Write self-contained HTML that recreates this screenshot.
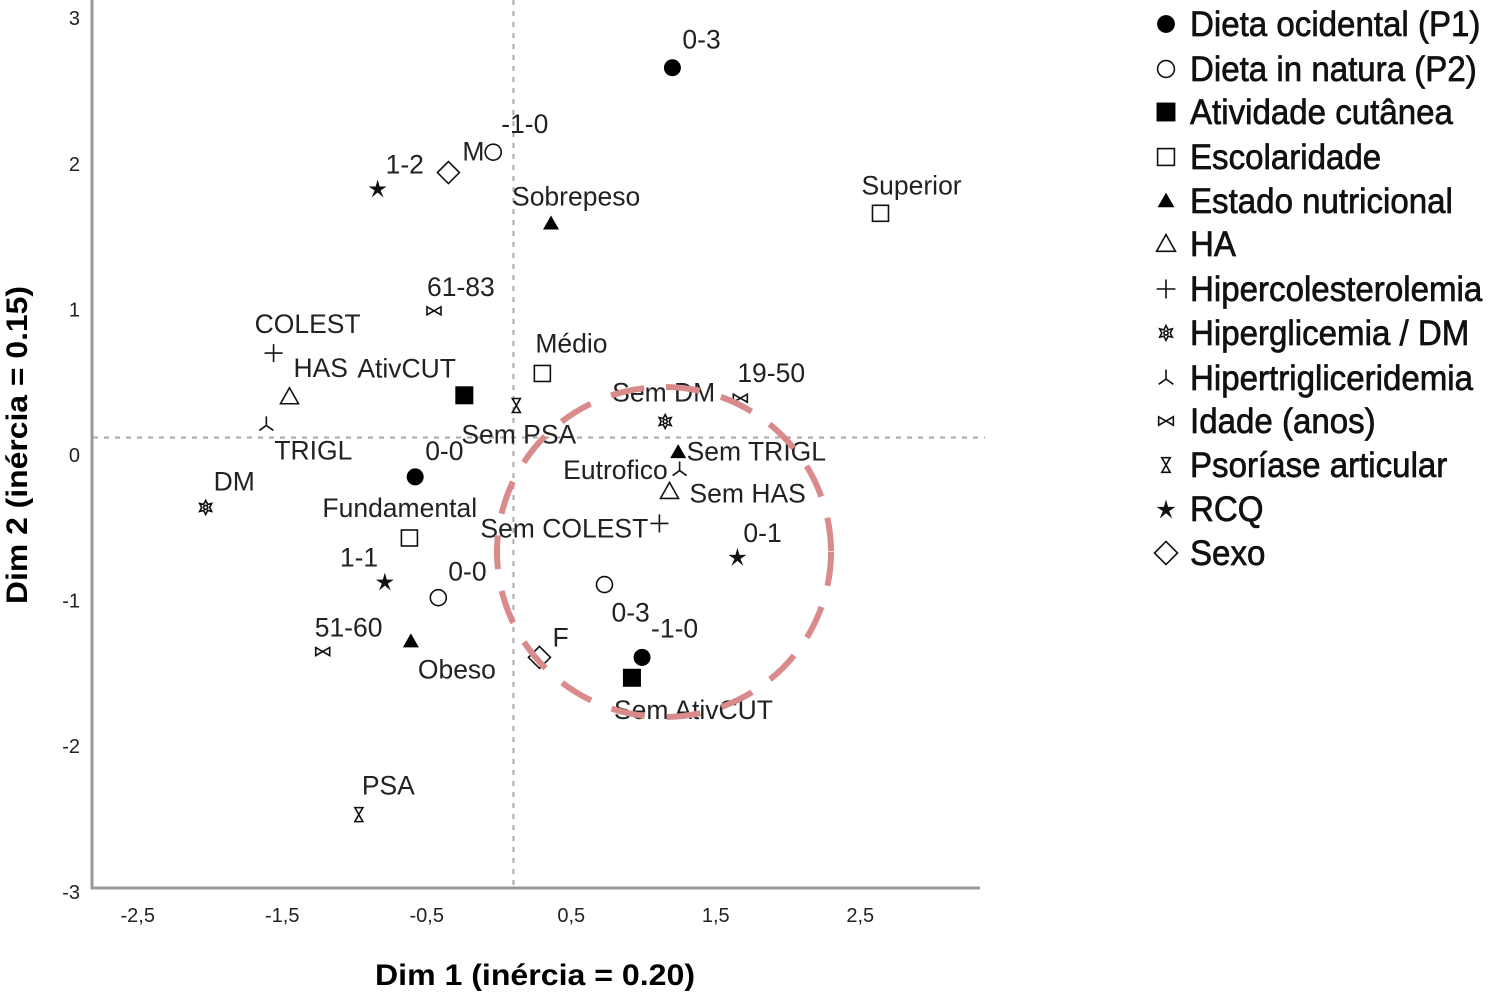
<!DOCTYPE html>
<html><head><meta charset="utf-8"><style>
html,body{margin:0;padding:0;background:#fff;}
svg{display:block;font-family:"Liberation Sans",sans-serif;}
</style></head><body>
<svg id="chart" width="1500" height="992" viewBox="0 0 1500 992" xmlns="http://www.w3.org/2000/svg">
<g id="axes"></g>
<g id="marks"></g>
<ellipse cx="664" cy="552" rx="167" ry="165" fill="none" stroke="#d98b8b" stroke-width="6" stroke-dasharray="34,22"/>
<g id="legend"></g>
<text x="535" y="985" text-anchor="middle" font-size="30" font-weight="bold" textLength="320" lengthAdjust="spacingAndGlyphs">Dim 1 (inércia = 0.20)</text>
<text transform="translate(27,445) rotate(-90)" text-anchor="middle" font-size="30" font-weight="bold" textLength="318" lengthAdjust="spacingAndGlyphs">Dim 2 (inércia = 0.15)</text>
</svg>
<script>
const xTicks = [-2.5,-1.5,-0.5,0.5,1.5,2.5];
const xTickLabels = ["-2,5","-1,5","-0,5","0,5","1,5","2,5"];
const yTicks = [3,2,1,0,-1,-2,-3];
const yTickLabels = ["3","2","1","0","-1","-2","-3"];
const seriesNames = ["Dieta ocidental (P1)","Dieta in natura (P2)","Atividade cutânea","Escolaridade","Estado nutricional","HA","Hipercolesterolemia","Hiperglicemia / DM","Hipertrigliceridemia","Idade (anos)","Psoríase articular","RCQ","Sexo"];
const seriesSymbols = ["circleFill","circle","squareFill","square","triFill","tri","plus","starburst","triDown","bowtie","hourglass","star","diamond"];
const dietaOcidentalX = [1.20,-0.58,0.99];
const dietaOcidentalY = [2.66,-0.15,-1.39];
const dietaOcidentalLabels = ["0-3","0-0","-1-0"];
const dietaNaturaX = [-0.04,-0.42,0.73];
const dietaNaturaY = [2.08,-0.98,-0.89];
const dietaNaturaLabels = ["-1-0","0-0","0-3"];
const ativX = [-0.24,0.92];
const ativY = [0.41,-1.53];
const ativLabels = ["AtivCUT","Sem AtivCUT"];
const escX = [2.64,0.30,-0.62];
const escY = [1.66,0.56,-0.57];
const escLabels = ["Superior","Médio","Fundamental"];
const nutrX = [0.36,1.24,-0.61];
const nutrY = [1.59,0.02,-1.28];
const nutrLabels = ["Sobrepeso","Eutrofico","Obeso"];
const haX = [-1.45,1.18];
const haY = [0.40,-0.25];
const haLabels = ["HAS","Sem HAS"];
const colX = [-1.56,1.11];
const colY = [0.70,-0.47];
const colLabels = ["COLEST","Sem COLEST"];
const dmX = [-2.03,1.15];
const dmY = [-0.36,0.23];
const dmLabels = ["DM","Sem DM"];
const trigX = [-1.61,1.25];
const trigY = [0.21,-0.10];
const trigLabels = ["TRIGL","Sem TRIGL"];
const idadeX = [-0.45,1.67,-1.22];
const idadeY = [0.99,0.39,-1.35];
const idadeLabels = ["61-83","19-50","51-60"];
const psaX = [0.12,-0.97];
const psaY = [0.34,-2.47];
const psaLabels = ["Sem PSA","PSA"];
const rcqX = [-0.84,1.65,-0.79];
const rcqY = [1.83,-0.70,-0.87];
const rcqLabels = ["1-2","0-1","1-1"];
const sexoX = [-0.35,0.28];
const sexoY = [1.94,-1.39];
const sexoLabels = ["M","F"];

const seriesX = [dietaOcidentalX,dietaNaturaX,ativX,escX,nutrX,haX,colX,dmX,trigX,idadeX,psaX,rcqX,sexoX];
const seriesY = [dietaOcidentalY,dietaNaturaY,ativY,escY,nutrY,haY,colY,dmY,trigY,idadeY,psaY,rcqY,sexoY];
const seriesLabels = [dietaOcidentalLabels,dietaNaturaLabels,ativLabels,escLabels,nutrLabels,haLabels,colLabels,dmLabels,trigLabels,idadeLabels,psaLabels,rcqLabels,sexoLabels];
// label offsets relative to marker (layout only)
const labelOffsets = [
 [[10,-28],[10,-26],[9,-29]],
 [[8,-28],[10,-26],[7,28]],
 [[-107,-27],[-18,32]],
 [[-19,-28],[-7,-30],[-87,-30]],
 [[-39,-27],[-115,18],[7,28]],
 [[4,-29],[20,2]],
 [[-19,-29],[-179,5]],
 [[8,-26],[-53,-29]],
 [[8,26],[7,-18]],
 [[-7,-24],[-3,-25],[-8,-24]],
 [[-55,29],[3,-29]],
 [[8,-24],[6,-24],[-45,-24]],
 [[14,-21],[13,-20]]
];

const SVGNS="http://www.w3.org/2000/svg";
const X0=499, XS=144.5, Y0=455, YS=145.6;
function sx(v){return X0+v*XS;}
function sy(v){return Y0-v*YS;}
function mk(tag,attrs,parent){const e=document.createElementNS(SVGNS,tag);for(const k in attrs)e.setAttribute(k,attrs[k]);parent.appendChild(e);return e;}

const axes=document.getElementById('axes');
let e;
e=mk('line',{x1:92,y1:0,x2:92,y2:889,stroke:'#999','stroke-width':3},axes);


e=mk('line',{x1:91,y1:888,x2:980,y2:888,stroke:'#999','stroke-width':3},axes);


e=mk('line',{x1:sx(0.1),y1:0,x2:sx(0.1),y2:887,stroke:'#aaa','stroke-width':2,'stroke-dasharray':'5,6'},axes);


e=mk('line',{x1:93,y1:sy(0.12),x2:985,y2:sy(0.12),stroke:'#aaa','stroke-width':2,'stroke-dasharray':'5,6'},axes);


xTicks.forEach((t,i)=>{
 const tx=mk('text',{x:sx(t),y:922,'text-anchor':'middle','font-size':20,fill:'#222'},axes);
 tx.textContent=xTickLabels[i];
 
 
});
yTicks.forEach((t,i)=>{
 const tx=mk('text',{x:80,y:sy(t)+7,'text-anchor':'end','font-size':20,fill:'#222'},axes);
 tx.textContent=yTickLabels[i];
 
 
});

function drawSymbol(sym,x,y,parent,s){
 s=s||1;
 const g=mk('g',{transform:`translate(${x},${y}) scale(${s})`},parent);
 const st={stroke:'#111','stroke-width':1.6/s,fill:'none'};
 switch(sym){
  case 'circleFill': mk('circle',{r:8.5,fill:'#000'},g);break;
  case 'circle': mk('circle',Object.assign({r:8},st),g);break;
  case 'squareFill': mk('rect',{x:-9,y:-9,width:18,height:18,fill:'#000'},g);break;
  case 'square': mk('rect',Object.assign({x:-8,y:-8,width:16,height:16},st),g);break;
  case 'triFill': mk('path',{d:'M0,-8 L8,6 L-8,6Z',fill:'#000'},g);break;
  case 'tri': mk('path',Object.assign({d:'M0,-9 L9,7 L-9,7Z'},st),g);break;
  case 'plus': mk('path',Object.assign({d:'M-9,0 H9 M0,-9 V9'},st),g);break;
  case 'starburst': mk('path',Object.assign({d:'M0,-7 L2,-3 L6,-4 L4,0 L6,4 L2,3 L0,7 L-2,3 L-6,4 L-4,0 L-6,-4 L-2,-3Z'},st),g);mk('circle',Object.assign({r:2},st),g);break;
  case 'triDown': mk('path',Object.assign({d:'M0,-8 V1 M0,1 L-7,6 M0,1 L7,6'},st),g);break;
  case 'bowtie': mk('path',Object.assign({d:'M-7,-4 L7,4 V-4 L-7,4Z'},st),g);break;
  case 'hourglass': mk('path',Object.assign({d:'M-4,-7 H4 L-4,7 H4Z'},st),g);break;
  case 'star': mk('path',{d:'M0,-9 L2,-2 L9,-2 L3,2 L6,9 L0,4 L-6,9 L-3,2 L-9,-2 L-2,-2Z',fill:'#111'},g);break;
  case 'diamond': mk('path',Object.assign({d:'M0,-11 L11,0 L0,11 L-11,0Z'},st),g);break;
 }
 return g;
}

const marks=document.getElementById('marks');
seriesX.forEach((xs,si)=>{
 const sg=mk('g',{},marks);
 
 
 xs.forEach((xv,i)=>{
  const px=sx(xv), py=sy(seriesY[si][i]);
  const m=drawSymbol(seriesSymbols[si],px,py,sg);
  
  
  const off=labelOffsets[si][i];
  const t=mk('text',{x:px+off[0],y:py+off[1]+9,'font-size':26.5,fill:'#222'},sg);
  t.textContent=seriesLabels[si][i];
  
  
 });
});

const legend=document.getElementById('legend');
const legendRows=[24,69,112,157,201,244,289,333,378,421,465,509,553];
seriesNames.forEach((n,i)=>{
 const g=mk('g',{},legend);
 
 
 drawSymbol(seriesSymbols[i],1166,legendRows[i],g,1.05);
 const t=mk('text',{x:0,y:0,'font-size':35,fill:'#111',stroke:'#111','stroke-width':0.7,transform:`translate(1190,${legendRows[i]+12}) scale(0.945,1)`},g);
 t.textContent=n;
});
</script>
</body></html>
